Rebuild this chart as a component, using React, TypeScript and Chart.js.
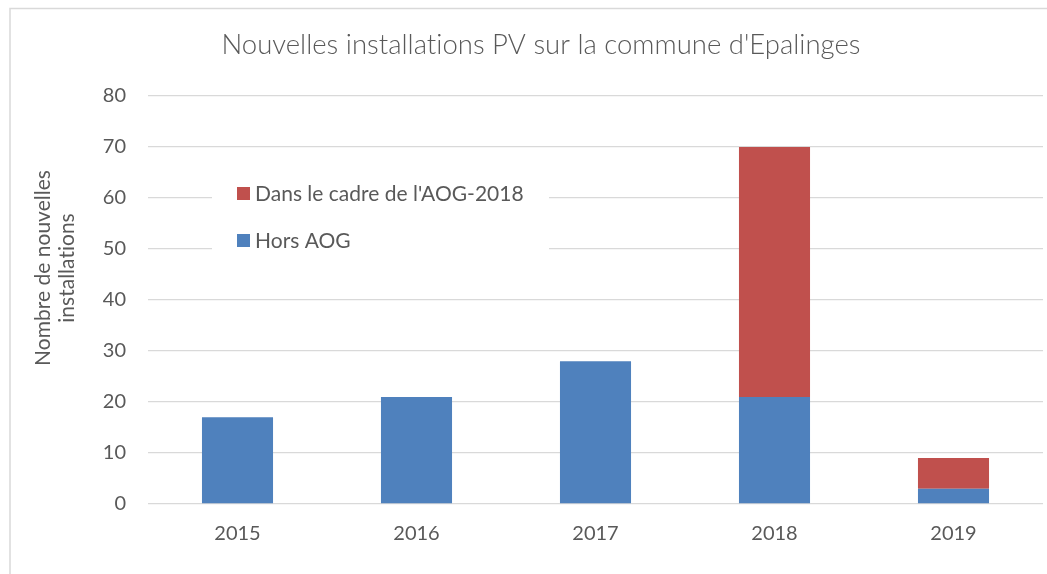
import React, { useEffect, useRef } from "react";
import { Chart, registerables } from "chart.js";

Chart.register(...registerables);

const TITLE = "Nouvelles installations PV sur la commune d'Epalinges";
const Y_TITLE_LINES = ["Nombre de nouvelles", "installations"];
const YEARS = ["2015", "2016", "2017", "2018", "2019"];
const HORS_AOG = [17, 21, 28, 21, 3];
const AOG_2018 = [0, 0, 0, 49, 6];
const LABEL_HORS = "Hors AOG";
const LABEL_AOG = "Dans le cadre de l'AOG-2018";
const BLUE = "#4f81bd";
const RED = "#c0504d";
const TEXT = "#595959";
const GRID = "#d9d9d9";
const FONT = "Lato, 'Open Sans', sans-serif";

const decor = {
  id: "decor",
  beforeDraw(chart: any) {
    const ctx = chart.ctx;
    ctx.save();
    ctx.fillStyle = "#ffffff";
    ctx.fillRect(0, 0, chart.width, chart.height);
    ctx.strokeStyle = GRID;
    ctx.lineWidth = 1.5;
    ctx.beginPath();
    ctx.moveTo(10, chart.height);
    ctx.lineTo(10, 8.5);
    ctx.lineTo(chart.width, 8.5);
    ctx.stroke();
    ctx.restore();
  },
  afterDraw(chart: any) {
    const ctx = chart.ctx;
    ctx.save();
    try { ctx.letterSpacing = "0.01px"; } catch (e) {}
    // title
    ctx.fillStyle = TEXT;
    ctx.font = `300 27.5px ${FONT}`;
    ctx.textAlign = "center";
    ctx.textBaseline = "middle";
    ctx.fillText(TITLE, 541, 45);
    // y axis title
    ctx.save();
    ctx.translate(55, 268);
    ctx.rotate(-Math.PI / 2);
    ctx.font = `21px ${FONT}`;
    ctx.fillText(Y_TITLE_LINES[0], 0, -12);
    ctx.fillText(Y_TITLE_LINES[1], 0, 12);
    ctx.restore();
    // legend
    ctx.fillStyle = "#ffffff";
    ctx.fillRect(212, 174, 337, 88);
    const items = [
      { label: LABEL_AOG, color: RED, y: 193 },
      { label: LABEL_HORS, color: BLUE, y: 240 },
    ];
    ctx.font = `21px ${FONT}`;
    ctx.textAlign = "left";
    for (const it of items) {
      ctx.fillStyle = it.color;
      ctx.fillRect(237, it.y - 6, 13, 13);
      ctx.fillStyle = TEXT;
      ctx.fillText(it.label, 255, it.y + 1);
    }
    ctx.restore();
  },
};

export default function App() {
  const ref = useRef<HTMLCanvasElement | null>(null);
  useEffect(() => {
    document.body.style.margin = "0";
    const chart = new Chart(ref.current!, {
      type: "bar",
      data: {
        labels: YEARS,
        datasets: [
          { label: LABEL_HORS, data: HORS_AOG, backgroundColor: BLUE },
          { label: LABEL_AOG, data: AOG_2018, backgroundColor: RED },
        ],
      },
      options: {
        responsive: false,
        animation: false,
        devicePixelRatio: 1,
        layout: { padding: { left: 0, right: 4, top: 96, bottom: 0 } },
        plugins: { legend: { display: false }, title: { display: false }, tooltip: { enabled: false } },
        datasets: { bar: { categoryPercentage: 1, barPercentage: 0.397 } },
        scales: {
          x: {
            stacked: true,
            grid: { display: false, drawTicks: false },
            border: { display: false },
            ticks: { color: TEXT, font: { family: FONT, size: 20 }, padding: 18 },
            afterFit: (s: any) => { s.height = 70; },
          },
          y: {
            stacked: true,
            min: 0,
            max: 80,
            grid: { color: GRID, lineWidth: 1.3, drawTicks: false },
            border: { display: false },
            ticks: { stepSize: 10, color: TEXT, font: { family: FONT, size: 20 }, padding: 22 },
            afterFit: (s: any) => { s.width = 148; },
          },
        },
      },
      plugins: [decor],
    });
    return () => chart.destroy();
  }, []);
  return (
    <div style={{ position: "absolute", left: 0, top: 0, width: 1047, height: 574 }}>
      <canvas ref={ref} width={1047} height={574} style={{ display: "block" }} />
    </div>
  );
}
